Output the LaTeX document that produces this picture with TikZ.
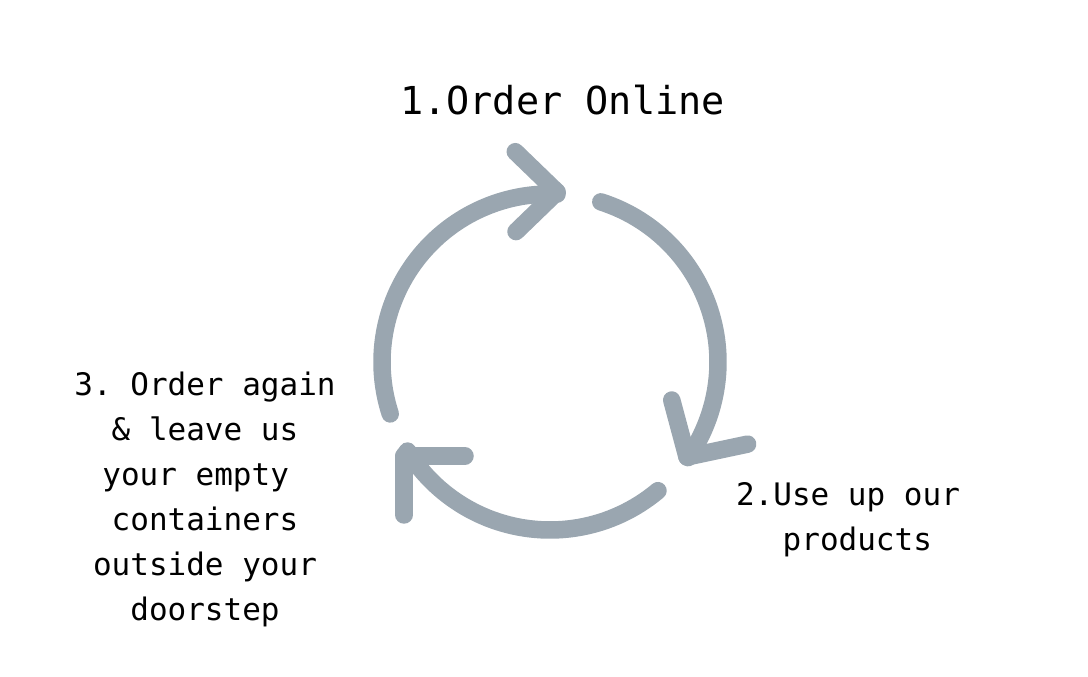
\documentclass[tikz,border=0pt]{standalone}
\usepackage{fontspec}
\newfontfamily\cyclefont{DejaVu Sans Mono}
\usepackage{tikz}
\definecolor{cyclegrey}{HTML}{9AA6B0}
\frenchspacing

\begin{document}
\begin{tikzpicture}[x = 1pt, y = 1pt,
    every node/.style = { align = center, inner sep = 0pt, anchor = base },
    cyclearrow/.style = { draw = cyclegrey, line width = 17.5pt, line cap = round, line join = round },
    steptext/.style = { font = \cyclefont\fontsize{31}{45}\selectfont }]
    \useasboundingbox (0,0) rectangle (1088,677);
    \coordinate (c) at (550,315);
    \coordinate (tip1) at (557,485);
    \coordinate (tip2) at (687,220);
    \coordinate (tip3) at (404,221);
    % three arcs round the centre
    \draw [cyclearrow] (c) ++(198:168) arc [start angle = 198, end angle = 87.6, radius = 168] -- (tip1);
    \draw [cyclearrow] (c) ++(72.4:168) arc [start angle = 72.4, end angle = -34.7, radius = 168] -- (tip2);
    \draw [cyclearrow] (c) ++(-50:168) arc [start angle = -50, end angle = -148, radius = 168] -- (tip3);
    % open heads
    \draw [cyclearrow] (tip1) ++(136:58) -- (tip1) -- ++(224:57);
    \draw [cyclearrow] (tip2) ++(105:59) -- (tip2) -- ++(12:62);
    \draw [cyclearrow] (tip3) ++(0:61) -- (tip3) -- ++(270:59);
    % labels
    \node (order) [font = \cyclefont\fontsize{38.5}{46}\selectfont] at (562.5,562) {1.Order Online};
    \node (use) [steptext] at (848,126) {2.Use up our\\~products};
    \node (again) [steptext] at (205,56) {3. Order again\\ \& leave us\\ your empty~\mbox{}\\ containers\\ outside your\\ doorstep};
\end{tikzpicture}
\end{document}
